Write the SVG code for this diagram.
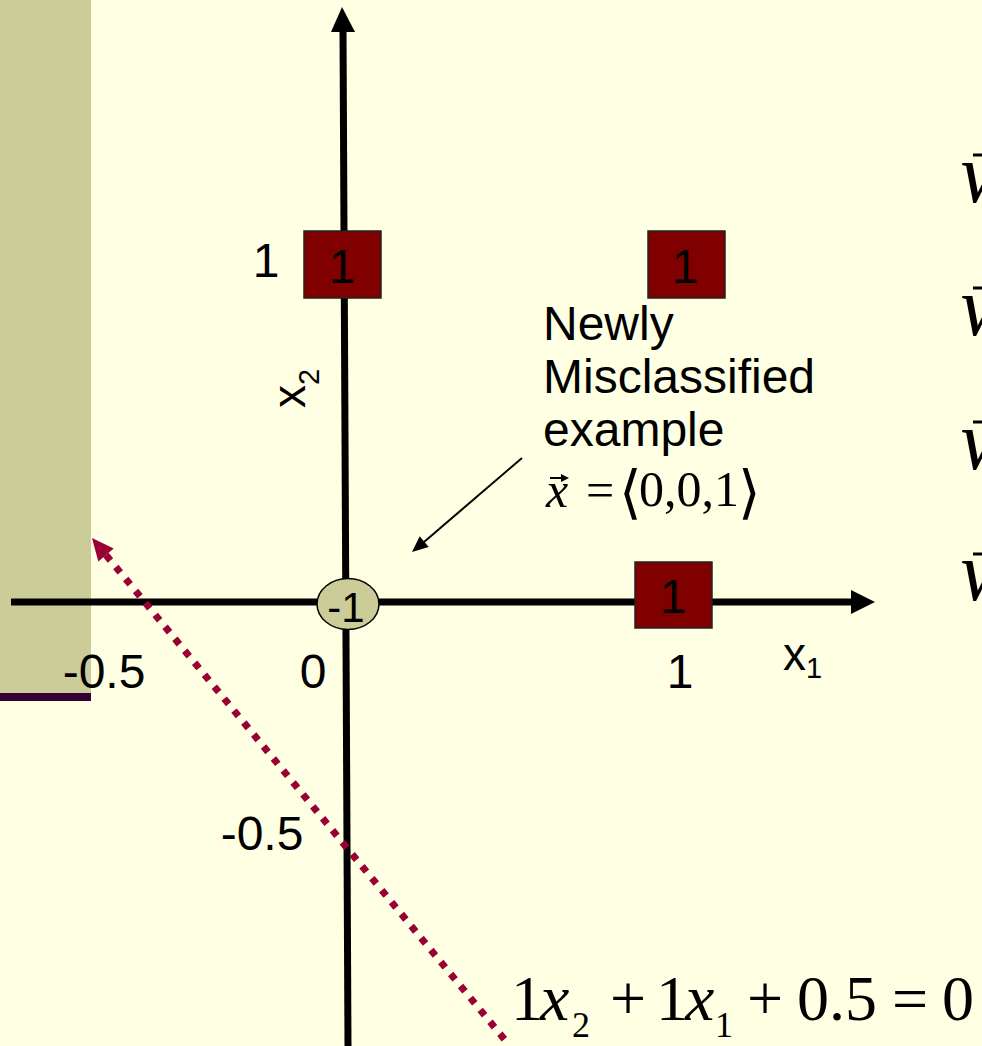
<svg xmlns="http://www.w3.org/2000/svg" width="982" height="1046" viewBox="0 0 982 1046">
<style>
.lbl{font-family:"Liberation Sans",Arial,sans-serif;font-size:48px;fill:#000}
.sq{fill:#800000;stroke:#222;stroke-width:1.5}
.m{font-family:"Liberation Serif","Times New Roman",serif;fill:#000}
.mi{font-family:"Liberation Serif","Times New Roman",serif;font-style:italic;fill:#000}
.br{font-family:"Liberation Serif","DejaVu Sans","Noto Sans CJK SC",serif;fill:#000}
</style>
<rect x="0" y="0" width="982" height="1046" fill="#FFFFE3"/>
<rect x="0" y="0" width="91" height="693" fill="#CCCC99"/>
<rect x="0" y="693" width="91" height="8" fill="#330033"/>
<g id="connectors">
  <g id="axis-x2">
    <line x1="343" y1="30" x2="348" y2="1046" stroke="#000" stroke-width="7"/>
    <polygon points="342,7 331,32 355,32" fill="#000"/>
  </g>
  <g id="axis-x1">
    <line x1="11" y1="602" x2="853" y2="602" stroke="#000" stroke-width="7"/>
    <polygon points="875,602 851,590 851,614" fill="#000"/>
  </g>
  <g id="decision-line">
    <line x1="106" y1="555" x2="505" y2="1040" stroke="#990033" stroke-width="7" stroke-dasharray="7 8.5"/>
    <polygon points="92,538 113.7,548.6 98.3,561.4" fill="#990033"/>
  </g>
  <g id="label-arrow">
    <line x1="522" y1="458" x2="424" y2="542" stroke="#000" stroke-width="2"/>
    <polygon points="412,552 428.7,546.9 419.7,536.3" fill="#000"/>
  </g>
</g>
<g id="node-01">
  <rect class="sq" x="304" y="231" width="77" height="67"/>
  <text class="lbl" x="342" y="283" text-anchor="middle">1</text>
</g>
<g id="node-11">
  <rect class="sq" x="648" y="231" width="77" height="67"/>
  <text class="lbl" x="685" y="283" text-anchor="middle">1</text>
</g>
<g id="node-10">
  <rect class="sq" x="635" y="562" width="77" height="66"/>
  <text class="lbl" x="673" y="613" text-anchor="middle">1</text>
</g>
<g id="node-00">
  <ellipse cx="348" cy="604" rx="31" ry="25.5" fill="#CCCC99" stroke="#000" stroke-width="1.5"/>
  <text class="lbl" x="346" y="622" text-anchor="middle" style="font-size:42px">-1</text>
</g>
<g id="axis-labels">
  <text class="lbl" x="266" y="277" text-anchor="middle">1</text>
  <text class="lbl" x="104" y="688" text-anchor="middle">-0.5</text>
  <text class="lbl" x="313" y="688" text-anchor="middle">0</text>
  <text class="lbl" x="680" y="688" text-anchor="middle">1</text>
  <text class="lbl" x="262" y="850" text-anchor="middle">-0.5</text>
  <text class="lbl" x="783" y="670" style="font-size:46px">x<tspan dy="8" style="font-size:29px">1</tspan></text>
  <text class="lbl" transform="translate(305,408) rotate(-90)" style="font-size:46px">x<tspan dy="14" style="font-size:29px">2</tspan></text>
</g>
<g id="annotation">
  <text class="lbl" x="543" y="340">Newly</text>
  <text class="lbl" x="543" y="393">Misclassified</text>
  <text class="lbl" x="543" y="446">example</text>
  <text class="mi" x="546" y="507" style="font-size:50px">x</text>
  <line x1="550" y1="478" x2="566" y2="478" stroke="#000" stroke-width="2"/>
  <polygon points="569,478 561,474 561,482" fill="#000"/>
  <text class="m" x="586" y="507" style="font-size:50px">=</text>
  <text class="br" x="619" y="512" style="font-size:58px">⟨</text>
  <text class="m" x="639" y="506" style="font-size:50px">0,0,1</text>
  <text class="br" x="738" y="512" style="font-size:58px">⟩</text>
</g>
<g id="equation">
  <text class="m" x="511" y="1020" style="font-size:64px">1</text>
  <text class="mi" x="540" y="1020" style="font-size:66px">x</text>
  <text class="m" x="572" y="1037" style="font-size:36px">2</text>
  <text class="m" x="610" y="1020" style="font-size:64px">+</text>
  <text class="m" x="656" y="1020" style="font-size:64px">1</text>
  <text class="mi" x="685" y="1020" style="font-size:66px">x</text>
  <text class="m" x="715" y="1037" style="font-size:36px">1</text>
  <text class="m" x="747" y="1020" style="font-size:64px">+</text>
  <text class="m" x="797" y="1020" style="font-size:64px">0.5</text>
  <text class="m" x="892" y="1020" style="font-size:64px">=</text>
  <text class="m" x="942" y="1020" style="font-size:64px">0</text>
</g>
<g id="weights">
  <text class="mi" x="960" y="202" style="font-size:84px">w</text>
  <line x1="973" y1="155" x2="982" y2="155" stroke="#000" stroke-width="3"/>
  <text class="mi" x="960" y="335" style="font-size:84px">w</text>
  <line x1="973" y1="288" x2="982" y2="288" stroke="#000" stroke-width="3"/>
  <text class="mi" x="960" y="469" style="font-size:84px">w</text>
  <line x1="973" y1="422" x2="982" y2="422" stroke="#000" stroke-width="3"/>
  <text class="mi" x="960" y="600" style="font-size:84px">w</text>
  <line x1="973" y1="554" x2="982" y2="554" stroke="#000" stroke-width="3"/>
</g>
</svg>
